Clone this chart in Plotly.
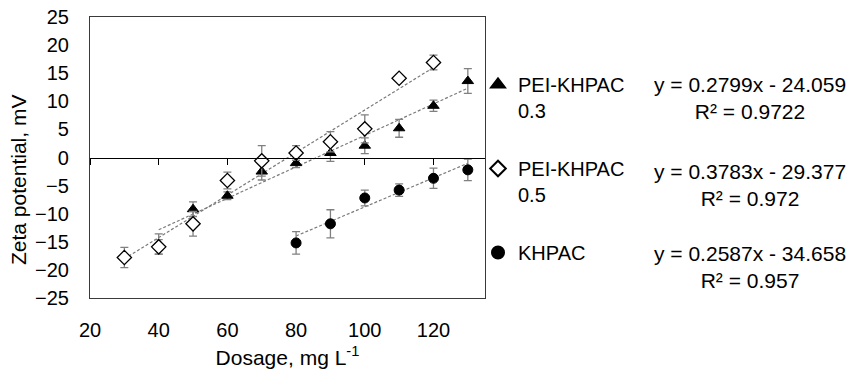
import plotly.graph_objects as go

# ---------------- data ----------------
dosage_03 = [40, 50, 60, 70, 80, 90, 100, 110, 120, 130]
zeta_03 = [-15.4, -9.2, -6.8, -2.5, -1.0, 0.8, 2.1, 5.2, 9.2, 13.6]
err_03 = [1.8, 1.3, 0.7, 1.5, 0.8, 1.5, 1.4, 1.6, 1.0, 2.2]

dosage_05 = [30, 40, 50, 60, 70, 80, 90, 100, 110, 120]
zeta_05 = [-17.8, -15.9, -11.8, -4.1, -0.6, 0.8, 2.8, 5.1, 14.1, 16.9]
err_05 = [1.8, 1.3, 2.2, 1.5, 2.7, 1.3, 1.8, 2.5, 0.3, 1.3]

dosage_k = [80, 90, 100, 110, 120, 130]
zeta_k = [-15.2, -11.8, -7.2, -5.8, -3.7, -2.2]
err_k = [2.0, 2.5, 1.4, 1.1, 1.8, 1.9]

series_names = ["PEI-KHPAC<br>0.3", "PEI-KHPAC<br>0.5", "KHPAC"]
slopes = [0.2799, 0.3783, 0.2587]
intercepts = [-24.059, -29.377, -34.658]
r2_values = ["0.9722", "0.972", "0.957"]

x_ticks = [20, 40, 60, 80, 100, 120]
y_ticks = [-25, -20, -15, -10, -5, 0, 5, 10, 15, 20, 25]

# ---------------- layout geometry ----------------
W, H = 858, 377
L, R, T, B = 90, 373, 17, 79
FONT = "Liberation Sans, Arial, sans-serif"
FS = 20
pw = W - L - R
ph = H - T - B


def px_x(v):
    return (v - L) / pw


def px_y(v):
    return 1 - (v - T) / ph


fig = go.Figure()

styles = [
    dict(symbol="triangle-up", size=10, color="black", line=dict(color="black", width=1)),
    dict(symbol="diamond", size=11, color="white", line=dict(color="black", width=1.3)),
    dict(symbol="circle", size=10, color="black", line=dict(color="black", width=1)),
]
data = [(dosage_03, zeta_03, err_03), (dosage_05, zeta_05, err_05), (dosage_k, zeta_k, err_k)]

# trendlines (drawn first, beneath markers)
for (xs, ys, es), m, b in zip(data, slopes, intercepts):
    xl = [min(xs), max(xs)]
    fig.add_trace(go.Scatter(
        x=xl, y=[m * v + b for v in xl], mode="lines",
        line=dict(color="#7a7a7a", width=1.2, dash="3px,2px"),
        showlegend=False, hoverinfo="skip"))

for i, ((xs, ys, es), st, name) in enumerate(zip(data, styles, series_names)):
    fig.add_trace(go.Scatter(
        x=xs, y=ys, mode="markers", name=name, legendgroup=f"g{i}",
        marker=st,
        error_y=dict(type="data", array=es, visible=True, color="#808080",
                     thickness=1.3, width=4)))

# empty trace to carry the zero-line axis
fig.add_trace(go.Scatter(x=[], y=[], xaxis="x2", yaxis="y", showlegend=False, hoverinfo="skip"))

# equation labels
eq_y = [85, 172, 254]
for m, b, r2, yc in zip(slopes, intercepts, r2_values, eq_y):
    sign = "-" if b < 0 else "+"
    txt = f"y = {m}x {sign} {abs(b):.3f}<br>R² = {r2}"
    fig.add_annotation(
        xref="paper", yref="paper",
        x=px_x(750), y=px_y(yc - 14),
        xanchor="center", yanchor="top", align="center",
        text=txt, showarrow=False,
        font=dict(family=FONT, size=21, color="black"))

# y-axis title
fig.add_annotation(
    xref="paper", yref="paper", x=px_x(18), y=px_y(180),
    xanchor="center", yanchor="middle", textangle=-90,
    text="Zeta potential, mV", showarrow=False,
    font=dict(family=FONT, size=21, color="black"))

fig.update_layout(
    width=W, height=H,
    margin=dict(l=L, r=R, t=T, b=B, pad=0, autoexpand=False),
    paper_bgcolor="white", plot_bgcolor="white",
    font=dict(family=FONT, size=FS, color="black"),
    xaxis=dict(
        range=[20, 135], tickvals=x_ticks, ticks="", showgrid=False, zeroline=False,
        showline=True, mirror=True, linecolor="#3a3a3a", linewidth=1.2,
        ticklabelstandoff=14, automargin=False,
        title=dict(text="Dosage, mg L<sup>-1</sup>", standoff=10, font=dict(size=21)),
    ),
    xaxis2=dict(
        range=[20, 135], overlaying="x", anchor="free", position=0.5,
        tickvals=x_ticks, ticks="outside", ticklen=6, tickwidth=1.3, tickcolor="black",
        showticklabels=False, showgrid=False, zeroline=False, automargin=False,
        showline=True, linecolor="black", linewidth=1.3,
    ),
    yaxis=dict(
        range=[-25, 25], tickvals=y_ticks, ticks="", showgrid=False, zeroline=False,
        showline=True, mirror=True, linecolor="#3a3a3a", linewidth=1.2,
        ticklabelstandoff=16, automargin=False,
    ),
    legend=dict(
        xref="container", yref="container",
        x=478 / W, y=1 - 65 / H, xanchor="left", yanchor="top",
        valign="top", tracegroupgap=29, itemsizing="constant", maxheight=360,
        font=dict(family=FONT, size=20), bgcolor="rgba(0,0,0,0)",
    ),
)

fig.write_html("out.html", config={"displayModeBar": False},
               post_script="document.body.style.margin='0';")
